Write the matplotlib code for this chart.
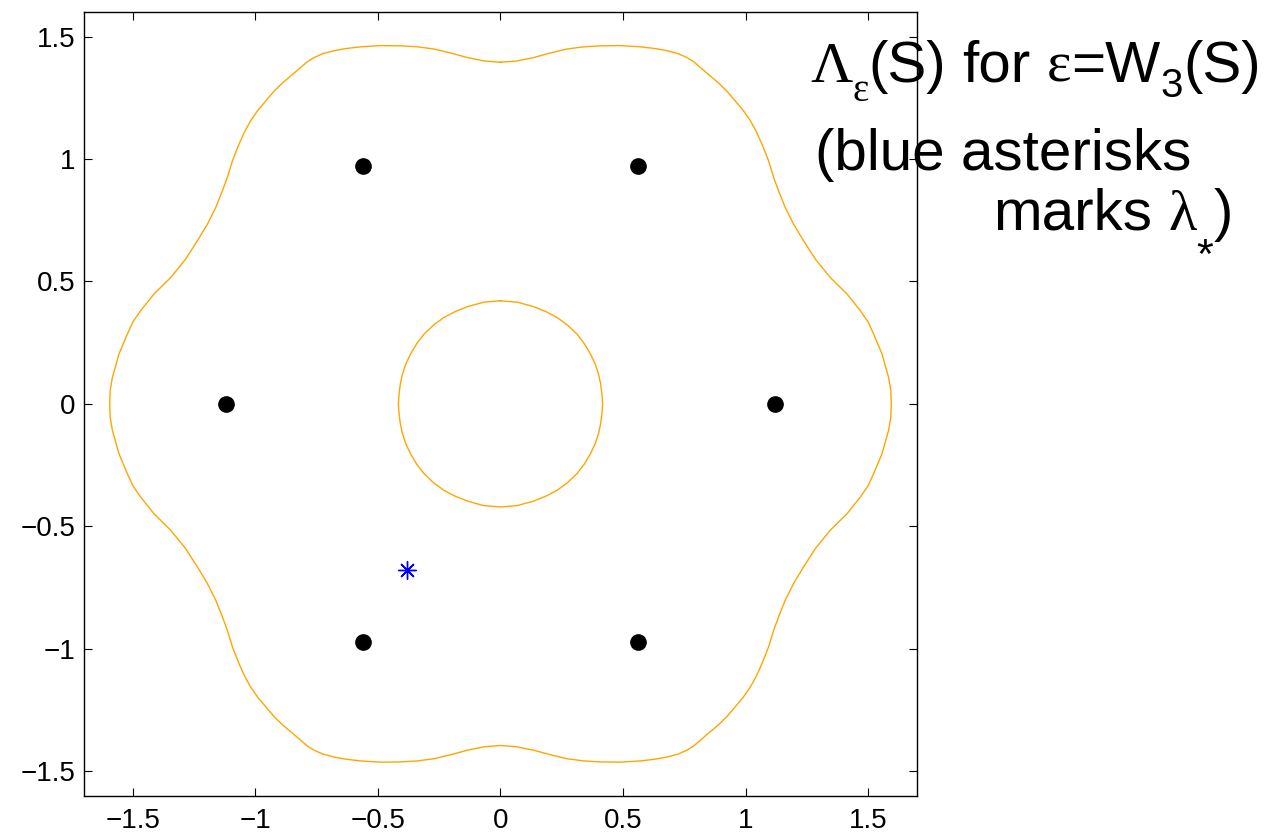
import numpy as np
import matplotlib
matplotlib.use("Agg")
import matplotlib.pyplot as plt
from matplotlib.transforms import IdentityTransform

plt.rcParams["font.family"] = ["Liberation Sans", "DejaVu Sans"]

# eigenvalues (black dots)
eig_x = [1.12, 0.56, -0.56, -1.12, -0.56, 0.56]
eig_y = [0.0, 0.972, 0.972, 0.0, -0.972, -0.972]

# lambda_* (blue asterisk)
star_x = [-0.383]
star_y = [-0.679]

# outer contour, first quadrant (mirrored below)
outer_x = [0.000, 0.065, 0.135, 0.200, 0.271, 0.340, 0.407, 0.489, 0.571,
           0.630, 0.680, 0.725, 0.761, 0.790, 0.816, 0.850, 0.889, 0.925,
           0.957, 0.990, 1.020, 1.045, 1.067, 1.094, 1.115, 1.135, 1.162,
           1.196, 1.237, 1.285, 1.346, 1.414, 1.469, 1.500, 1.523, 1.557,
           1.584, 1.593, 1.595]
outer_y = [1.395, 1.400, 1.414, 1.432, 1.449, 1.458, 1.462, 1.463, 1.458,
           1.451, 1.442, 1.430, 1.414, 1.396, 1.373, 1.344, 1.311, 1.276,
           1.238, 1.199, 1.156, 1.110, 1.061, 0.993, 0.924, 0.870, 0.802,
           0.734, 0.666, 0.591, 0.516, 0.449, 0.380, 0.335, 0.285, 0.204,
           0.108, 0.055, 0.000]

# inner contour, first quadrant
inner_x = [0.000, 0.070, 0.135, 0.185, 0.231, 0.273, 0.312, 0.342, 0.367,
           0.386, 0.400, 0.409, 0.414, 0.417]
inner_y = [0.421, 0.415, 0.397, 0.377, 0.353, 0.322, 0.285, 0.246, 0.204,
           0.164, 0.122, 0.080, 0.040, 0.000]

ticks = [-1.5, -1, -0.5, 0, 0.5, 1, 1.5]
tick_labels = ["\u22121.5", "\u22121", "\u22120.5", "0", "0.5", "1", "1.5"]

CONTOUR = "#FFA500"
SANS = "Liberation Sans"
SERIF = "Liberation Serif"
W, H = 1282, 836


def full_loop(qx, qy):
    # mirror the first-quadrant points into a closed curve
    qx = np.asarray(qx)
    qy = np.asarray(qy)
    xs = np.concatenate([qx, qx[::-1][1:], -qx[1:], -qx[::-1][1:]])
    ys = np.concatenate([qy, -qy[::-1][1:], -qy[1:], qy[::-1][1:]])
    return xs, ys


def draw_run(fig, x, base, parts):
    # draw text pieces one after another, pixel coords (y from top)
    r = fig.canvas.get_renderer()
    for s, fam, size, drop in parts:
        if s == " ":
            x += 0.278 * size * 100 / 72
            continue
        t = fig.text(x, H - base - drop, s, fontsize=size, family=fam,
                     va="baseline", ha="left", transform=IdentityTransform())
        x += t.get_window_extent(r).width


fig = plt.figure(figsize=(12.82, 8.36), dpi=100)
ax = fig.add_axes([0.0655, 0.0482, 0.6498, 0.9374])

for qx, qy in [(outer_x, outer_y), (inner_x, inner_y)]:
    lx, ly = full_loop(qx, qy)
    ax.plot(lx, ly, color=CONTOUR, linewidth=1.0)

ax.plot(eig_x, eig_y, "o", color="black", markersize=11)
ax.plot(star_x, star_y, linestyle="none", marker=(8, 2, 0), color="blue",
        markersize=13, markeredgewidth=1.0)

ax.set_xlim(-1.7, 1.7)
ax.set_ylim(-1.6, 1.6)
ax.set_xticks(ticks)
ax.set_xticklabels(tick_labels)
ax.set_yticks(ticks)
ax.set_yticklabels(tick_labels)
ax.tick_params(direction="in", top=True, right=True, length=6, width=0.8,
               labelsize=20)
ax.tick_params(axis="x", pad=9)
ax.tick_params(axis="y", pad=6)
for sp in ax.spines.values():
    sp.set_linewidth(1.0)

draw_run(fig, 810, 82, [
    ("\u039b", SERIF, 42, 0), ("\u03b5", SERIF, 28, 19),
    ("(S)", SANS, 42, 0), (" ", SANS, 42, 0), ("for", SANS, 42, 0),
    (" ", SANS, 42, 0), ("\u03b5", SERIF, 42, 0), ("=W", SANS, 42, 0),
    ("3", SANS, 29, 15), ("(S)", SANS, 42, 0),
])
draw_run(fig, 815, 170, [("(blue asterisks", SANS, 42, 0)])
draw_run(fig, 993, 230, [
    ("marks", SANS, 42, 0), (" ", SANS, 42, 0), ("\u03bb", SERIF, 42, 0),
    ("*", SANS, 31, 38), (")", SANS, 42, 0),
])

fig.savefig("out.png", dpi=100)
